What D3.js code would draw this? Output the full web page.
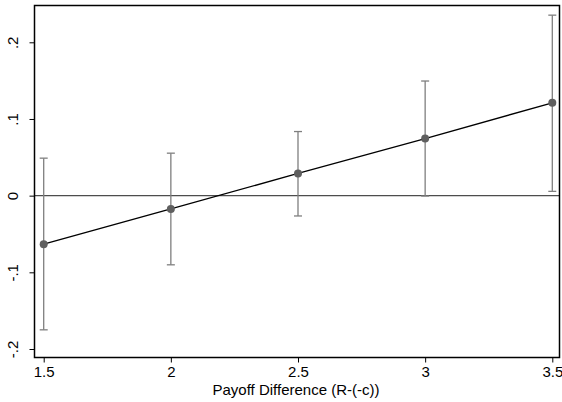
<!DOCTYPE html>
<html>
<head>
<meta charset="utf-8">
<script src="https://cdn.jsdelivr.net/npm/d3@7"></script>
<style>
  html, body { margin: 0; padding: 0; background: #fff; }
  svg { display: block; font-family: "Liberation Sans", Arial, sans-serif; }
</style>
</head>
<body>
<svg id="chart" width="562" height="402"></svg>
<script>
// Payoff difference levels and estimated marginal effects with 95% CIs
const payoffDiff = [1.5, 2, 2.5, 3, 3.5];
const estimate   = [-0.0633, -0.0174, 0.0290, 0.0745, 0.1210];
const ciLower    = [-0.1750, -0.0902, -0.0265, -0.0005, 0.0056];
const ciUpper    = [0.0489, 0.0554, 0.0836, 0.1495, 0.2354];
const xTicks     = [1.5, 2, 2.5, 3, 3.5];
const yTicks     = [-0.2, -0.1, 0, 0.1, 0.2];
const yTickLabels = ["-.2", "-.1", "0", ".1", ".2"];
const xTitle = "Payoff Difference (R-(-c))";

const data = payoffDiff.map((x, i) => ({ x, y: estimate[i], lo: ciLower[i], hi: ciUpper[i] }));

const svg = d3.select("#chart");
const frame = { left: 34.5, right: 559.5, top: 5.5, bottom: 357.5 };
const fontSize = 15;

const x = d3.scaleLinear().domain([1.5, 3.5]).range([43.7, 552.3]);
const y = d3.scaleLinear().domain([-0.2, 0.2]).range([349, 42.3]);

// Reference line at zero
svg.append("line")
  .attr("x1", frame.left).attr("x2", frame.right)
  .attr("y1", y(0)).attr("y2", y(0))
  .attr("stroke", "#4d4d4d").attr("stroke-width", 1.2);

// Confidence intervals
const ci = svg.append("g").attr("stroke", "#7f7f7f").attr("stroke-width", 1.3).attr("fill", "none");
ci.selectAll("line.v").data(data).join("line").attr("class", "v")
  .attr("x1", d => x(d.x)).attr("x2", d => x(d.x))
  .attr("y1", d => y(d.lo)).attr("y2", d => y(d.hi));
ci.selectAll("line.top").data(data).join("line").attr("class", "top")
  .attr("x1", d => x(d.x) - 4).attr("x2", d => x(d.x) + 4)
  .attr("y1", d => y(d.hi)).attr("y2", d => y(d.hi));
ci.selectAll("line.bot").data(data).join("line").attr("class", "bot")
  .attr("x1", d => x(d.x) - 4).attr("x2", d => x(d.x) + 4)
  .attr("y1", d => y(d.lo)).attr("y2", d => y(d.lo));

// Connecting line through the estimates
svg.append("path")
  .datum(data)
  .attr("fill", "none").attr("stroke", "#000").attr("stroke-width", 1.3)
  .attr("d", d3.line().x(d => x(d.x)).y(d => y(d.y)));

// Point estimates
svg.append("g").selectAll("circle").data(data).join("circle")
  .attr("cx", d => x(d.x)).attr("cy", d => y(d.y)).attr("r", 4)
  .attr("fill", "#5f5f5f");

// Plot frame
svg.append("rect")
  .attr("x", frame.left).attr("y", frame.top)
  .attr("width", frame.right - frame.left).attr("height", frame.bottom - frame.top)
  .attr("fill", "none").attr("stroke", "#000").attr("stroke-width", 1.5);

// X axis
const xAxis = svg.append("g")
  .attr("transform", `translate(0,${frame.bottom})`)
  .call(d3.axisBottom(x).tickValues(xTicks).tickFormat(d3.format("")).tickSize(5).tickPadding(4));
xAxis.select(".domain").remove();
xAxis.selectAll("text").attr("font-size", fontSize).attr("fill", "#000").attr("font-family", "Liberation Sans, Arial, sans-serif");
xAxis.selectAll("line").attr("stroke", "#000");

// Y axis with rotated labels
const yAxis = svg.append("g")
  .attr("transform", `translate(${frame.left},0)`)
  .call(d3.axisLeft(y).tickValues(yTicks).tickFormat((d, i) => yTickLabels[i]).tickSize(5));
yAxis.select(".domain").remove();
yAxis.selectAll("line").attr("stroke", "#000");
yAxis.selectAll("text")
  .attr("font-size", fontSize).attr("fill", "#000").attr("font-family", "Liberation Sans, Arial, sans-serif")
  .attr("x", null).attr("dy", null)
  .attr("text-anchor", "middle")
  .attr("transform", "translate(-17,0) rotate(-90)");

// X axis title
svg.append("text")
  .attr("x", (frame.left + frame.right) / 2 - 1).attr("y", 395)
  .attr("text-anchor", "middle").attr("font-size", fontSize)
  .text(xTitle);
</script>
</body>
</html>
